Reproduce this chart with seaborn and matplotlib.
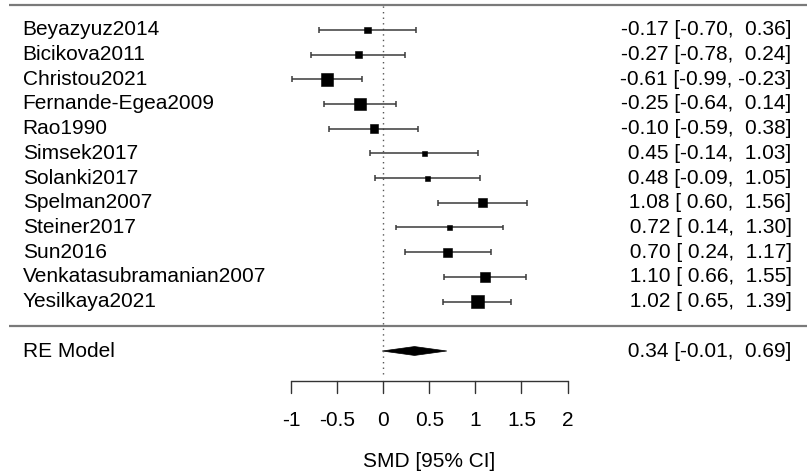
import numpy as np
import pandas as pd
import matplotlib
matplotlib.use("Agg")
import matplotlib.pyplot as plt
from matplotlib.patches import Polygon
import seaborn as sns

# Study-level standardized mean differences with 95% CIs
studies = ["Beyazyuz2014", "Bicikova2011", "Christou2021", "Fernande-Egea2009",
           "Rao1990", "Simsek2017", "Solanki2017", "Spelman2007", "Steiner2017",
           "Sun2016", "Venkatasubramanian2007", "Yesilkaya2021"]
smd = [-0.17, -0.27, -0.61, -0.25, -0.10, 0.45, 0.48, 1.08, 0.72, 0.70, 1.10, 1.02]
ci_lo = [-0.70, -0.78, -0.99, -0.64, -0.59, -0.14, -0.09, 0.60, 0.14, 0.24, 0.66, 0.65]
ci_hi = [0.36, 0.24, -0.23, 0.14, 0.38, 1.03, 1.05, 1.56, 1.30, 1.17, 1.55, 1.39]

# Random-effects pooled estimate
re_label = "RE Model"
re_est, re_lo, re_hi = 0.34, -0.01, 0.69

xticks = [-1, -0.5, 0, 0.5, 1, 1.5, 2]
xtick_labels = ["-1", "-0.5", "0", "0.5", "1", "1.5", "2"]
xlabel = "SMD [95% CI]"

sns.set_theme(style="white")
plt.rcParams["font.family"] = ["Liberation Sans", "DejaVu Sans"]

k = len(studies)
rows = np.arange(k, 0, -1)  # first study at the top

# Sampling variances recovered from the CI widths
vi = ((np.array(ci_hi) - np.array(ci_lo)) / (2 * 1.96)) ** 2

# Between-study variance consistent with the pooled CI: sum(1/(vi+tau2)) = 1/se^2
target = 1 / ((re_hi - re_lo) / (2 * 1.96)) ** 2
lo_t, hi_t = 0.0, 5.0
for _ in range(80):
    mid = (lo_t + hi_t) / 2
    if np.sum(1 / (vi + mid)) > target:
        lo_t = mid
    else:
        hi_t = mid
tau2 = (lo_t + hi_t) / 2

# Point sizes scale linearly with the random-effects weights
rw = 1 / (vi + tau2)
psize = (rw - rw.min()) / (rw.max() - rw.min()) * 1.0 + 0.5
side_pt = psize / 1.5 * 13.0 * 0.72
area = side_pt ** 2

df = pd.DataFrame({"study": studies, "smd": smd, "lo": ci_lo, "hi": ci_hi,
                   "row": rows, "area": area})

fig = plt.figure(figsize=(8.07, 4.75), dpi=100)
ax = fig.add_axes([0, 0, 1, 1])

fs = 15
ink = "black"
bar_col = "#3a3a3a"

# Header and separator rules
for yy in (13.0, 0.0):
    ax.plot([-4.06, 4.597], [yy, yy], color="#7a7a7a", lw=1.6, solid_capstyle="butt")

# Reference line at zero
ax.plot([0, 0], [-1.95, 13.0], color="#555555", lw=1.0, linestyle=(0, (1, 3)))

# Confidence intervals with end caps
ax.hlines(df["row"], df["lo"], df["hi"], color=bar_col, lw=1.1)
cap = 0.12
ax.vlines(df["lo"], df["row"] - cap, df["row"] + cap, color=bar_col, lw=1.1)
ax.vlines(df["hi"], df["row"] - cap, df["row"] + cap, color=bar_col, lw=1.1)

# Weighted point estimates
sns.scatterplot(data=df, x="smd", y="row", size="area",
                sizes=(area.min(), area.max()), size_norm=(area.min(), area.max()),
                marker="s", color=ink, edgecolor=ink, linewidth=0.4, legend=False,
                ax=ax, zorder=3)
ax.set_xlim(-4.156, 4.597)
ax.set_ylim(-6.02, 13.21)
ax.axis("off")

# Pooled estimate diamond
h = 0.18
ax.add_patch(Polygon([[re_lo, -1], [re_est, -1 + h], [re_hi, -1], [re_est, -1 - h]],
                     closed=True, facecolor=ink, edgecolor=ink, lw=0.5))

# Row labels and annotations
xl, xr = -3.91, 4.43
for s, r, e, lo, hi in zip(studies, rows, smd, ci_lo, ci_hi):
    ax.text(xl, r, s, ha="left", va="center", fontsize=fs, color=ink)
    ax.text(xr, r, f"{e:5.2f} [{lo:5.2f}, {hi:5.2f}]", ha="right", va="center",
            fontsize=fs, color=ink)
ax.text(xl, -1, re_label, ha="left", va="center", fontsize=fs, color=ink)
ax.text(xr, -1, f"{re_est:5.2f} [{re_lo:5.2f}, {re_hi:5.2f}]", ha="right",
        va="center", fontsize=fs, color=ink)

# Bottom axis drawn as in a forest plot
ay = -2.2
ax.plot([xticks[0], xticks[-1]], [ay, ay], color="#333333", lw=1.0)
for t, lab in zip(xticks, xtick_labels):
    ax.plot([t, t], [ay, ay - 0.5], color="#333333", lw=1.0)
    ax.text(t, -3.8, lab, ha="center", va="center", fontsize=fs, color=ink)
ax.text((xticks[0] + xticks[-1]) / 2, -5.48, xlabel, ha="center", va="center",
        fontsize=fs, color=ink)

fig.savefig("out.png", dpi=100)
